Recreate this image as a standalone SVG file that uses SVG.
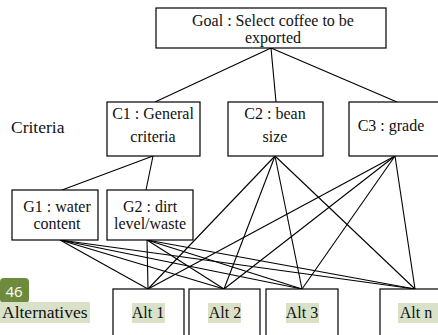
<svg xmlns="http://www.w3.org/2000/svg" width="438" height="335" viewBox="0 0 438 335">
<style>
.box{fill:#fff;stroke:#000;stroke-width:1.2}
.t{font-family:"Liberation Serif","Times New Roman",serif;font-size:16px;fill:#111;text-anchor:middle}
.lab{font-family:"Liberation Serif","Times New Roman",serif;font-size:17.5px;fill:#111}
.hl{fill:#d9e2c9}
.c line{stroke:#000;stroke-width:1.1}
</style>
<rect width="438" height="335" fill="#fff"/>
<g class="c" id="connectors">
<line x1="271" y1="48" x2="155" y2="102"/>
<line x1="271" y1="48" x2="276" y2="102"/>
<line x1="271" y1="48" x2="397" y2="102"/>
<line x1="153" y1="156" x2="62" y2="190"/>
<line x1="153" y1="156" x2="146" y2="190"/>
<line x1="60" y1="240" x2="148" y2="289"/>
<line x1="60" y1="240" x2="224" y2="289"/>
<line x1="60" y1="240" x2="302" y2="289"/>
<line x1="60" y1="240" x2="415" y2="289"/>
<line x1="147" y1="240" x2="148" y2="289"/>
<line x1="147" y1="240" x2="224" y2="289"/>
<line x1="147" y1="240" x2="302" y2="289"/>
<line x1="147" y1="240" x2="415" y2="289"/>
<line x1="275" y1="156" x2="148" y2="289"/>
<line x1="275" y1="156" x2="224" y2="289"/>
<line x1="275" y1="156" x2="302" y2="289"/>
<line x1="275" y1="156" x2="415" y2="289"/>
<line x1="395" y1="156" x2="148" y2="289"/>
<line x1="395" y1="156" x2="224" y2="289"/>
<line x1="395" y1="156" x2="302" y2="289"/>
<line x1="395" y1="156" x2="415" y2="289"/>
</g>
<g id="goal">
<rect class="box" x="156" y="8" width="230" height="40"/>
<text class="t" x="273" y="26">Goal : Select coffee to be</text>
<text class="t" x="273" y="43">exported</text>
</g>
<g id="criteria-label"><text class="lab" x="11" y="133">Criteria</text></g>
<g id="c1">
<rect class="box" x="107" y="102" width="93" height="54"/>
<text class="t" x="153" y="119">C1 : General</text>
<text class="t" x="153" y="142">criteria</text>
</g>
<g id="c2">
<rect class="box" x="228" y="102" width="95" height="54"/>
<text class="t" x="275" y="119">C2 : bean</text>
<text class="t" x="275" y="142">size</text>
</g>
<g id="c3">
<rect class="box" x="349" y="102" width="95" height="54"/>
<text class="t" x="391" y="131">C3 : grade</text>
</g>
<g id="g1">
<rect class="box" x="12" y="190" width="86" height="50"/>
<text class="t" x="57" y="212">G1 : water</text>
<text class="t" x="57" y="229">content</text>
</g>
<g id="g2">
<rect class="box" x="107" y="190" width="86" height="50"/>
<text class="t" x="150" y="212">G2 : dirt</text>
<text class="t" x="150" y="229">level/waste</text>
</g>
<g id="badge">
<rect x="0" y="278" width="29" height="25" rx="4" fill="#6e8b3d"/>
<text x="14" y="297" font-family="'Open Sans','Noto Sans',sans-serif" font-size="15" fill="#fff" text-anchor="middle">46</text>
</g>
<g id="alternatives-label">
<rect class="hl" x="0" y="302" width="90" height="21"/>
<text class="lab" x="2" y="318">Alternatives</text>
</g>
<g id="alt1">
<rect class="box" x="113" y="289" width="71" height="52"/>
<rect class="hl" x="132" y="303" width="33" height="20"/>
<text class="t" x="148" y="318">Alt 1</text>
</g>
<g id="alt2">
<rect class="box" x="189" y="289" width="71" height="52"/>
<rect class="hl" x="208" y="303" width="33" height="20"/>
<text class="t" x="225" y="318">Alt 2</text>
</g>
<g id="alt3">
<rect class="box" x="266" y="289" width="72" height="52"/>
<rect class="hl" x="286" y="303" width="33" height="20"/>
<text class="t" x="302" y="318">Alt 3</text>
</g>
<g id="altn">
<rect class="box" x="380" y="289" width="72" height="52"/>
<rect class="hl" x="398" y="303" width="40" height="20"/>
<text class="t" x="416" y="318">Alt n</text>
</g>
</svg>
